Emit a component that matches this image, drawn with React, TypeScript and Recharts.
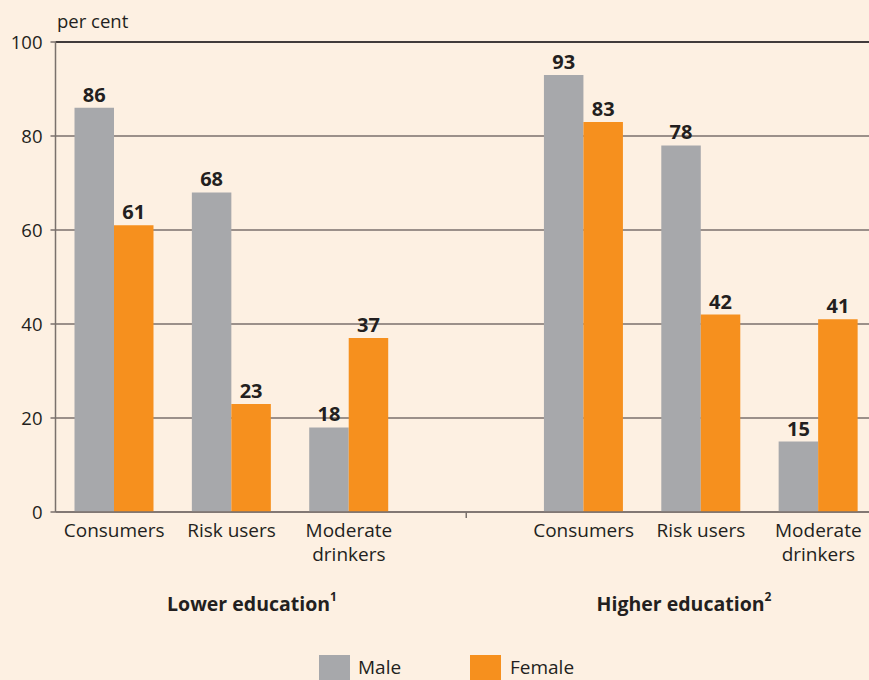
import React from 'react'
import { BarChart, Bar, XAxis, YAxis, CartesianGrid, LabelList, ReferenceLine } from 'recharts'

const categories = ['Consumers', 'Risk users', 'Moderate\ndrinkers', '', 'Consumers', 'Risk users', 'Moderate\ndrinkers']
const maleValues = [86, 68, 18, null, 93, 78, 15]
const femaleValues = [61, 23, 37, null, 83, 42, 41]
const yTicks = [0, 20, 40, 60, 80, 100]
const groupLabels = ['Lower education', 'Higher education']
const groupNotes = ['1', '2']

const data = categories.map((name, i) => ({ id: i, name, male: maleValues[i], female: femaleValues[i] }))

const FONT = '"Open Sans", "Noto Sans", sans-serif'
const INK = '#231f20'
const GRID = '#7a716c'
const BG = '#fdf0e2'
const GREY = '#a7a8ab'
const ORANGE = '#f6901e'

function CatTick(props: any) {
  const { x, y, payload } = props
  const label = categories[payload.index] ?? payload.value
  if (!label) {
    return <line x1={x} x2={x} y1={y} y2={y + 6} stroke={GRID} strokeWidth={1.5} />
  }
  const lines = String(label).split('\n')
  return (
    <g>
      {lines.map((l, i) => (
        <text key={i} x={x} y={y + 25 + i * 24} textAnchor="middle" fill={INK} fontSize={19} fontFamily={FONT}>
          {l}
        </text>
      ))}
    </g>
  )
}

function ValueLabel(props: any) {
  const { x, y, width, value } = props
  if (value == null) return null
  return (
    <text x={x + width / 2} y={y - 6} textAnchor="middle" fill={INK} fontSize={20} fontWeight={700} fontFamily={FONT}>
      {value}
    </text>
  )
}

export default function App() {
  return (
    <div style={{ position: 'absolute', left: 0, top: 0, width: 869, height: 680, background: BG, overflow: 'hidden', fontFamily: FONT }}>
      <div style={{ position: 'absolute', left: 57, top: 8, fontSize: 18.5, color: INK }}>per cent</div>
      <BarChart
        width={869}
        height={680}
        data={data}
        margin={{ top: 42, right: -8, bottom: 108, left: 0 }}
        barGap={0}
        barSize={39.5}
        style={{ overflow: 'visible' }}
      >
        <CartesianGrid vertical={false} stroke={GRID} strokeWidth={1.5} />
        <ReferenceLine y={100} stroke={INK} strokeWidth={1.5} />
        <XAxis
          dataKey="id"
          tick={<CatTick />}
          tickLine={false}
          tickSize={0}
          tickMargin={0}
          height={60}
          axisLine={{ stroke: GRID, strokeWidth: 1.5 }}
          interval={0}
        />
        <YAxis
          domain={[0, 100]}
          ticks={yTicks}
          width={55.5}
          tickSize={5}
          tickMargin={8}
          tickLine={{ stroke: GRID, strokeWidth: 1.5 }}
          axisLine={{ stroke: GRID, strokeWidth: 1.5 }}
          tick={{ fill: INK, fontSize: 18.5, fontFamily: FONT }}
        />
        <Bar dataKey="male" fill={GREY} isAnimationActive={false}>
          <LabelList dataKey="male" content={<ValueLabel />} />
        </Bar>
        <Bar dataKey="female" fill={ORANGE} isAnimationActive={false}>
          <LabelList dataKey="female" content={<ValueLabel />} />
        </Bar>
      </BarChart>
      {groupLabels.map((g, i) => (
        <div
          key={g}
          style={{
            position: 'absolute',
            left: i === 0 ? 252 - 130 : 684 - 130,
            width: 260,
            top: 590,
            textAlign: 'center',
            fontSize: 19.5,
            fontWeight: 700,
            color: INK,
            whiteSpace: 'nowrap',
          }}
        >
          {g}
          <sup style={{ fontSize: 12, position: 'relative', top: -3 }}>{groupNotes[i]}</sup>
        </div>
      ))}
      <div style={{ position: 'absolute', left: 319, top: 655, width: 31, height: 26, background: GREY }} />
      <div style={{ position: 'absolute', left: 358, top: 654, fontSize: 19, color: INK }}>Male</div>
      <div style={{ position: 'absolute', left: 470, top: 655, width: 31, height: 26, background: ORANGE }} />
      <div style={{ position: 'absolute', left: 510, top: 654, fontSize: 19, color: INK }}>Female</div>
    </div>
  )
}
